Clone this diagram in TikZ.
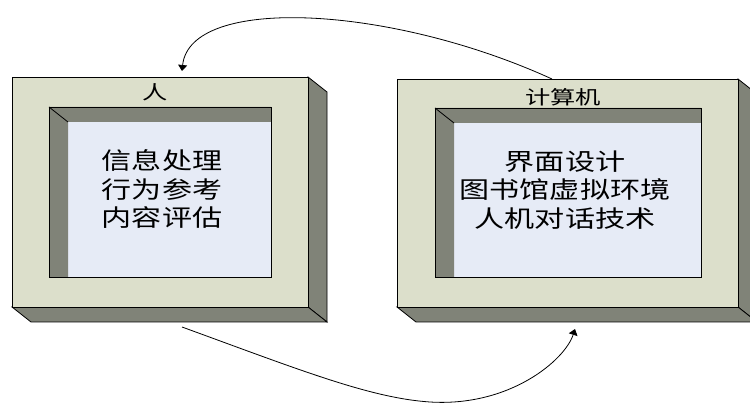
\documentclass[tikz,border=0pt]{standalone}
\usepackage{fontspec}
\newfontfamily\cjk{Noto Sans CJK SC}
\usetikzlibrary{arrows.meta,calc}
\definecolor{facec}{RGB}{220,223,203}
\definecolor{darkc}{RGB}{128,131,120}
\definecolor{innerc}{RGB}{230,235,246}
\tikzset{
 edge/.style={draw=black, line width=0.8pt, line join=miter},
 face/.style={edge, fill=facec, inner sep=0pt, outer sep=0pt},
 shade/.style={edge, fill=darkc},
 band/.style={fill=darkc},
 pane/.style={fill=innerc},
 body/.style={font=\cjk\fontsize{23.5}{28.5}\selectfont, align=center, transform shape, xscale=1.28, inner sep=0pt},
 title/.style={font=\cjk\fontsize{19}{22}\selectfont, transform shape, xscale=1.33, inner sep=0pt},
 flow/.style={draw=black, line width=0.8pt, -{Triangle[width=9pt,length=6pt]}},
}
\begin{document}
\begin{tikzpicture}[x=1pt,y=-1pt]
\useasboundingbox (0,0) rectangle (750,403);
% ---- left box (human) ----
\path[shade] (308,77) -- (327,92) -- (327,322) -- (308,307) -- cycle;
\path[shade] (12,307) -- (308,307) -- (327,322) -- (31,322) -- cycle;
\node[face, minimum width=296pt, minimum height=230pt] (L) at (160,192) {};
\path[pane] (68,122) rectangle (271,277);
\path[band] (49,107) -- (271,107) -- (271,122) -- (68,122) -- (68,277) -- (49,277) -- cycle;
\draw[edge] (49,107) -- (68,122);
\draw[edge] (49,107) rectangle (271,277);
\node[title] (Lt) at (155,92) {人};
\node[body] (Lb) at (162,189) {信息处理\\行为参考\\内容评估};
% ---- right box (computer) ----
\path[shade] (738,79) -- (757,94) -- (757,322) -- (738,307) -- cycle;
\path[shade] (397,307) -- (738,307) -- (757,322) -- (416,322) -- cycle;
\node[face, minimum width=341pt, minimum height=228pt] (R) at (567.5,193) {};
\path[pane] (454,123) rectangle (701,277);
\path[band] (435,108) -- (701,108) -- (701,123) -- (454,123) -- (454,277) -- (435,277) -- cycle;
\draw[edge] (435,108) -- (454,123);
\draw[edge] (435,108) rectangle (701,277);
\node[title] (Rt) at (563,97) {计算机};
\node[body] (Rb) at (565,190) {界面设计\\图书馆虚拟环境\\人机对话技术};
% ---- connectors ----
\coordinate (a1) at (552,79);
\coordinate (a2) at (182,71);
\coordinate (b1) at (182,327);
\coordinate (bm) at (430,402);
\coordinate (b2) at (575,329);
\draw[flow] (a1) .. controls (390,5) and (190,-5) .. (a2);
\draw[flow] (b1) .. controls (300,370) and (370,398) .. (bm) .. controls (510,407) and (565,360) .. (b2);
\end{tikzpicture}
\end{document}
